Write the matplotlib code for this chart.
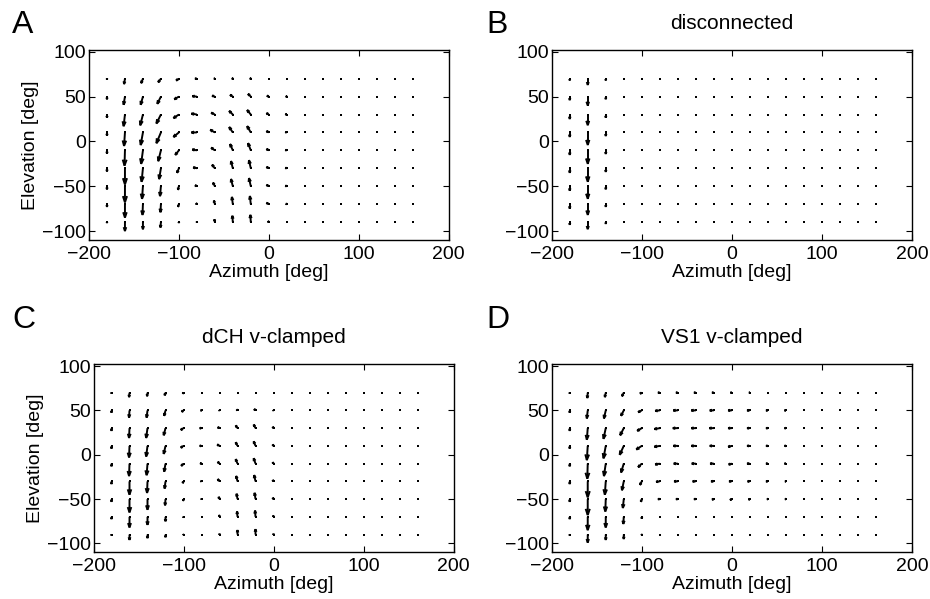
import numpy as np
import matplotlib.pyplot as plt

plt.rcParams['font.family'] = ['Liberation Sans', 'DejaVu Sans']

# sampling grid of the vector fields (deg)
azimuth = [-180, -160, -140, -120, -100, -80, -60, -40, -20, 0, 20, 40, 60, 80, 100, 120, 140, 160]
elevation = [70, 50, 30, 10, -10, -30, -50, -70, -90]

# A: full model (rows = elevation top->bottom, cols = azimuth)
a_u = [
    [0, -1.0, -2.0, -3.0, -3, -2, -1, -1, -1, 0, 0, 0, 0, 0, 0, 0, 0, 0],
    [0, -1.5, -2.5, -4.0, -5, -5, -3, -3, -3, -2, -1, 0, 0, 0, 0, 0, 0, 0],
    [0, -1.5, -3.0, -5.0, -6, -6, -4, -4, -4, -2.5, -1.5, 0, 0, 0, 0, 0, 0, 0],
    [0, -1.0, -2.5, -5.0, -6, -6, -5, -4, -4, -2.5, -1.5, 0, 0, 0, 0, 0, 0, 0],
    [0, -0.5, -2.0, -3.0, -4, -5, -4, -3, -3, -2.5, -1.5, 0, 0, 0, 0, 0, 0, 0],
    [0, 0, -1.5, -2.0, -2, -4, -3, -2, -2, -2.5, -1.5, 0, 0, 0, 0, 0, 0, 0],
    [0, 0, -1.0, -1.0, -1, -2, -2, -2, -2, -2.5, -1.5, 0, 0, 0, 0, 0, 0, 0],
    [0, 0, -0.5, -0.5, -1, -1, -1, -1, -1, -2.5, -1, 0, 0, 0, 0, 0, 0, 0],
    [0, 0, 0, -0.5, 0, 0, -0.5, -0.5, -0.5, -1, 0, 0, 0, 0, 0, 0, 0, 0],
]
a_v = [
    [-1, -6, -5, -4, -2, 0, 0, 0.5, 0.5, 0, 0, 0, 0, 0, 0, 0, 0, 0],
    [-3, -9, -9, -8, -3, 0.5, 1, 2, 3, 1, 0.5, 0, 0, 0, 0, 0, 0, 0],
    [-3.5, -13, -12, -10, -4, 1, 2, 4, 5, 1.5, 0.5, 0, 0, 0, 0, 0, 0, 0],
    [-3.5, -15, -14, -12, -5, 0, 3, 6, 7, 1.5, 0.5, 0, 0, 0, 0, 0, 0, 0],
    [-3.5, -17, -15, -12, -5, 1, 3, 7, 8, 1.5, 0.5, 0, 0, 0, 0, 0, 0, 0],
    [-3.5, -18, -15, -12, -5, 1, 4, 8, 9, 1.5, 0.5, 0, 0, 0, 0, 0, 0, 0],
    [-3.5, -18, -14, -11, -4, 1, 4, 8, 9, 1.5, 0.5, 0, 0, 0, 0, 0, 0, 0],
    [-3, -15, -12, -9, -3, 1, 4, 8, 9, 1.5, 0.5, 0, 0, 0, 0, 0, 0, 0],
    [-1, -10, -8, -6, -1, 0.5, 3, 7, 8, 1, 0, 0, 0, 0, 0, 0, 0, 0],
]

# B: disconnected
b_u = [[0] * 18 for _ in range(9)]
b_v = [
    [-2, -7, -2] + [0] * 15,
    [-4, -10, -3] + [0] * 15,
    [-5, -12, -3.5] + [0] * 15,
    [-5, -14, -4] + [0] * 15,
    [-5, -15, -4] + [0] * 15,
    [-5, -15, -4] + [0] * 15,
    [-5, -14, -3.5] + [0] * 15,
    [-5, -12, -3] + [0] * 15,
    [-3, -8, -2] + [0] * 15,
]

# C: dCH v-clamped
c_u = [
    [0, -0.5, -0.5, -1.0, -1.0, 0, 0, 0, 0, 0, 0, 0, 0, 0, 0, 0, 0, 0],
    [0, -0.5, -1.0, -1.5, -2.0, -1, -0.5, -1, -1.5, -0.5, 0, 0, 0, 0, 0, 0, 0, 0],
    [0, -0.5, -1.5, -2.0, -3.0, -2, -2, -2, -2, -1, 0, 0, 0, 0, 0, 0, 0, 0],
    [0, -0.5, -1.5, -2.0, -3.0, -2, -2.5, -2, -2, -1, 0, 0, 0, 0, 0, 0, 0, 0],
    [0, -0.5, -1.0, -1.5, -2.5, -1.5, -2, -2, -2, -1, 0, 0, 0, 0, 0, 0, 0, 0],
    [0, 0, -0.5, -1.0, -1.0, -1, -2, -1.5, -1.5, -1, 0, 0, 0, 0, 0, 0, 0, 0],
    [0, 0, 0, -0.5, -0.5, 0, -1, -1, -1, -1, 0, 0, 0, 0, 0, 0, 0, 0],
    [0, 0, 0, 0, 0, 0, -0.5, -0.5, -0.5, -0.5, 0, 0, 0, 0, 0, 0, 0, 0],
    [0, 0, 0, 0, 0, 0, 0, 0, 0, 0, 0, 0, 0, 0, 0, 0, 0, 0],
]
c_v = [
    [-1, -5, -4, -3, -1, 0, 0, 0, 0, 0, 0, 0, 0, 0, 0, 0, 0, 0],
    [-2.5, -8, -8, -6, -1.5, 0, 0.5, 1, 1.5, 0.5, 0, 0, 0, 0, 0, 0, 0, 0],
    [-3, -11, -11, -8, -2, 0, 1, 3, 4, 1.5, 0, 0, 0, 0, 0, 0, 0, 0],
    [-3, -13, -12, -9, -2, 0, 1.5, 4, 5, 1.5, 0, 0, 0, 0, 0, 0, 0, 0],
    [-3, -14, -13, -9, -2.5, 0.5, 2, 5, 6, 1.5, 0, 0, 0, 0, 0, 0, 0, 0],
    [-3, -15, -13, -8, -2, 0.5, 2.5, 6, 7, 1.5, 0, 0, 0, 0, 0, 0, 0, 0],
    [-3, -15, -12, -7, -2, 0.5, 2.5, 6, 7, 1.5, 0, 0, 0, 0, 0, 0, 0, 0],
    [-2.5, -12, -9, -5, -1, 0, 2, 6, 7, 1.5, 0, 0, 0, 0, 0, 0, 0, 0],
    [-1, -6, -4, -3, -0.5, 0, 1, 5, 6, 1, 0, 0, 0, 0, 0, 0, 0, 0],
]

# D: VS1 v-clamped
d_u = [
    [0, -0.5, -1.0, -2.0, -2, -2, -2, -2, -2, -1.5, -1, 0, 0, 0, 0, 0, 0, 0],
    [0, -1.0, -2.0, -3.0, -4, -5, -5, -5, -4.5, -4, -3, -2, -1.5, 0, 0, 0, 0, 0],
    [0, -1.0, -2.5, -4.0, -5, -6, -5.5, -5, -5, -4, -3, -2, -1.5, 0, 0, 0, 0, 0],
    [0, -1.0, -2.5, -4.5, -6, -6, -5, -5, -4.5, -4, -3, -2, -1.5, 0, 0, 0, 0, 0],
    [0, -0.5, -2.0, -3.0, -4, -5, -4.5, -4.5, -4, -3.5, -3, -2, -1.5, 0, 0, 0, 0, 0],
    [0, 0, -1.0, -2.0, -2, -4, -4, -3.5, -3, -3, -2.5, -2, -1, 0, 0, 0, 0, 0],
    [0, 0, -0.5, -1.0, -1, -2, -2, -2, -2, -2, -1.5, -1, -1, 0, 0, 0, 0, 0],
    [0, 0, 0, -0.5, 0, 0, 0, 0, 0, 0, 0, 0, 0, 0, 0, 0, 0, 0],
    [0, 0, 0, 0, 0, 0, 0, 0, 0, 0, 0, 0, 0, 0, 0, 0, 0, 0],
]
d_v = [
    [-1, -6, -5, -4, -1, 0, 0, 0, 0, 0, 0, 0, 0, 0, 0, 0, 0, 0],
    [-2.5, -9, -9, -6, -2, -0.5, 0, 0, 0, 0, 0, 0, 0, 0, 0, 0, 0, 0],
    [-3, -13, -12, -8, -3, -1, 0, 0, 0, 0, 0, 0, 0, 0, 0, 0, 0, 0],
    [-3, -16, -14, -10, -4, -1, 0, 0, 0, -1, 0, 0, 0, 0, 0, 0, 0, 0],
    [-3, -17, -14, -10, -4, -1, 0, 0, 0, -1, 0, 0, 0, 0, 0, 0, 0, 0],
    [-3, -18, -15, -10, -4, -0.5, 0, 0, 0, 0, 0, 0, 0, 0, 0, 0, 0, 0],
    [-3, -18, -14, -10, -3, 0, 0, 0, -0.5, -1, -0.5, 0, 0, 0, 0, 0, 0, 0],
    [-2.5, -15, -12, -8, -2, 0, 0, 0, 0, 0, 0, 0, 0, 0, 0, 0, 0, 0],
    [-1, -9, -6, -5, -0.5, 0, 0, 0, 0, 0, 0, 0, 0, 0, 0, 0, 0, 0],
]

W, H = 930, 599
fig = plt.figure(figsize=(W / 100, H / 100), dpi=100)


def box(l, t, r, b):
    return [l / W, 1 - b / H, (r - l) / W, (b - t) / H]


def matlab_quiver(ax, x, y, u, v, alpha=0.33, beta=0.33):
    # shafts plus open V heads, head size proportional to arrow length
    x, y, u, v = [np.ravel(a).astype(float) for a in (x, y, u, v)]
    nan = np.full_like(x, np.nan)
    sx = np.column_stack([x, x + u, nan]).ravel()
    sy = np.column_stack([y, y + v, nan]).ravel()
    tx, ty = x + u, y + v
    hx = np.column_stack([tx - alpha * (u + beta * v), tx, tx - alpha * (u - beta * v), nan]).ravel()
    hy = np.column_stack([ty - alpha * (v - beta * u), ty, ty - alpha * (v + beta * u), nan]).ravel()
    ax.plot(sx, sy, color='k', lw=1.4, solid_capstyle='butt')
    ax.plot(hx, hy, color='k', lw=1.4, solid_joinstyle='miter')
    ax.plot(x, y, 's', color='k', ms=1.8, mew=0)


panels = [
    ('disconnected', b_u, b_v, box(551.7, 50, 912, 240), False),
    ('', a_u, a_v, box(89, 50, 448.5, 240), True),
    ('dCH v-clamped', c_u, c_v, box(93.5, 364.3, 453.5, 552.3), True),
    ('VS1 v-clamped', d_u, d_v, box(551.7, 364.3, 912, 552.3), False),
]

X, Y = np.meshgrid(azimuth, elevation)

for title, u, v, pos, ylab in panels:
    ax = fig.add_axes(pos)
    matlab_quiver(ax, X, Y, u, v)
    ax.set_xlim(-200, 200)
    ax.set_ylim(-110, 102)
    ax.set_xticks([-200, -100, 0, 100, 200])
    ax.set_yticks([-100, -50, 0, 50, 100])
    ax.tick_params(direction='in', top=True, right=True, length=4, width=0.8,
                   labelsize=14, pad=4)
    ax.tick_params(axis='y', pad=2)
    for s in ax.spines.values():
        s.set_linewidth(1.0)
    ax.set_xlabel('Azimuth [deg]', fontsize=14, labelpad=1)
    if ylab:
        ax.set_ylabel('Elevation [deg]', fontsize=14, labelpad=2)
    if title:
        ax.set_title(title, fontsize=15, pad=15)

fig.text(12 / W, 1 - 25 / H, 'A', fontsize=23, va='center', ha='left')
fig.text(486 / W, 1 - 25 / H, 'B', fontsize=23, va='center', ha='left')
fig.text(12 / W, 1 - 320 / H, 'C', fontsize=23, va='center', ha='left')
fig.text(486 / W, 1 - 320 / H, 'D', fontsize=23, va='center', ha='left')

fig.savefig('out.png', dpi=100)
